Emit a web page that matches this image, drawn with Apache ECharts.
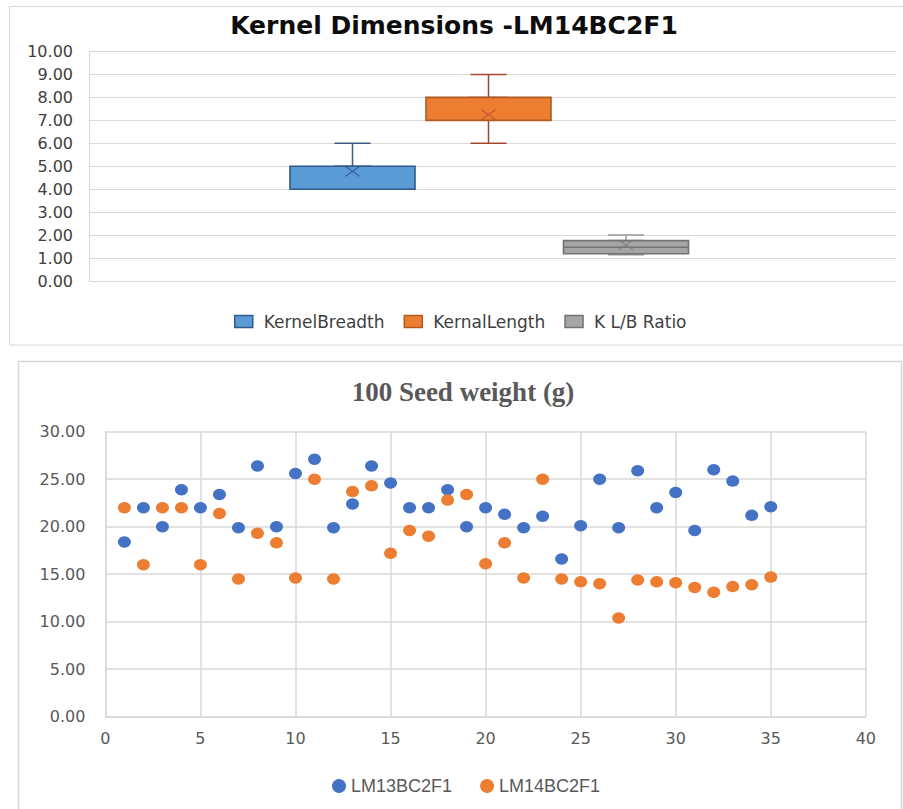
<!DOCTYPE html>
<html>
<head>
<meta charset="utf-8">
<script src="https://cdn.jsdelivr.net/npm/echarts@6/dist/echarts.min.js"></script>
<style>
html,body{margin:0;padding:0;background:#fff;}
#chart{width:903px;height:809px;}
</style>
</head>
<body>
<div id="chart"></div>
<script>
// ---------- Data: Kernel dimensions (box plot statistics) ----------
const boxNames  = ['KernelBreadth', 'KernalLength', 'K L/B Ratio'];
const boxMin    = [4.00, 6.00, 1.14];
const boxQ1     = [4.00, 7.00, 1.19];
const boxMedian = [5.00, 7.00, 1.47];
const boxQ3     = [5.00, 8.00, 1.76];
const boxMax    = [6.00, 9.00, 2.00];
const boxMean   = [4.78, 7.25, 1.57];

// ---------- Data: 100 seed weight (g) ----------
const seedIndex = [1,2,3,4,5,6,7,8,9,10,11,12,13,14,15,16,17,18,19,20,21,22,23,24,25,26,27,28,29,30,31,32,33,34,35];
const lm13 = [18.4,22.0,20.0,23.9,22.0,23.4,19.9,26.4,20.0,25.6,27.1,19.9,22.4,26.4,24.6,22.0,22.0,23.9,20.0,22.0,21.3,19.9,21.1,16.6,20.1,25.0,19.9,25.9,22.0,23.6,19.6,26.0,24.8,21.2,22.1];
const lm14 = [22.0,16.0,22.0,22.0,16.0,21.4,14.5,19.3,18.3,14.6,25.0,14.5,23.7,24.3,17.2,19.6,19.0,22.8,23.4,16.1,18.3,14.6,25.0,14.5,14.2,14.0,10.4,14.4,14.2,14.1,13.6,13.1,13.7,13.9,14.7];
const scatterNames = ['LM13BC2F1', 'LM14BC2F1'];

// ---------- Styling / layout ----------
const boxFill    = ['#5b9bd5', '#ed7d31', '#a5a5a5'];
const boxBorder  = ['#2f5a8c', '#ae5a21', '#737373'];
const whiskerCol = ['#3c5a82', '#a3462c', '#9a9a9a'];
const meanCol    = ['#2f5597', '#b5542a', '#7a7a7a'];
const boxCenters = [352.5, 488.5, 626];
const boxW = 125, capW = 36;
const topPlot = {left: 89, top: 51.5, width: 807, height: 229.5};
const botPlot = {left: 105.4, top: 431.7, width: 760.4, height: 285};
const scatterCol = ['#4472c4', '#ed7d31'];
const gridCol = '#d9d9d9';

const grids = [Object.assign({}, topPlot)];
const xAxes = [{gridIndex: 0, type: 'category', data: [''], show: false}];
const yAxes = [{
  gridIndex: 0, type: 'value', min: 0, max: 10, interval: 1,
  axisLine: {show: true, lineStyle: {color: gridCol, width: 1}},
  axisTick: {show: false},
  axisLabel: {margin: 16, formatter: v => v.toFixed(2), fontFamily: 'DejaVu Sans', fontSize: 16, color: '#404040'},
  splitLine: {show: true, lineStyle: {color: gridCol, width: 1}}
}];
const series = [];

boxNames.forEach((name, i) => {
  const gi = grids.length;
  grids.push({left: boxCenters[i] - boxW / 2, top: topPlot.top, width: boxW, height: topPlot.height});
  const xw = xAxes.length;
  xAxes.push({gridIndex: gi, type: 'category', data: [name], show: false});
  const xb = xAxes.length;
  xAxes.push({gridIndex: gi, type: 'category', data: [name], show: false});
  const yi = yAxes.length;
  yAxes.push({gridIndex: gi, type: 'value', min: 0, max: 10, show: false});
  // whiskers (narrow caps)
  series.push({
    type: 'boxplot', name: name + ' whisker', xAxisIndex: xw, yAxisIndex: yi, z: 2,
    boxWidth: [capW, capW], silent: true,
    data: [[boxMin[i], boxQ1[i], boxMedian[i], boxQ3[i], boxMax[i]]],
    itemStyle: {color: boxFill[i], borderColor: whiskerCol[i], borderWidth: 1.5}
  });
  // box
  series.push({
    type: 'boxplot', name: name, xAxisIndex: xb, yAxisIndex: yi, z: 3,
    boxWidth: [boxW, boxW], silent: true,
    data: [[boxQ1[i], boxQ1[i], boxMedian[i], boxQ3[i], boxQ3[i]]],
    itemStyle: {color: boxFill[i], borderColor: boxBorder[i], borderWidth: 1.6}
  });
  // mean marker
  series.push({
    type: 'scatter', name: name + ' mean', xAxisIndex: xb, yAxisIndex: yi, z: 4, silent: true,
    symbol: 'path://M0,0L10,10M10,0L0,10', symbolSize: [14, 10],
    data: [[0, boxMean[i]]],
    itemStyle: {color: 'rgba(0,0,0,0)', borderColor: meanCol[i], borderWidth: 1.3}
  });
});

// bottom scatter
const bi = grids.length;
grids.push(Object.assign({}, botPlot));
const bx = xAxes.length;
xAxes.push({
  gridIndex: bi, type: 'value', min: 0, max: 40, interval: 5,
  axisLine: {show: true, lineStyle: {color: gridCol, width: 1.5}},
  axisTick: {show: false},
  axisLabel: {margin: 14, fontFamily: 'DejaVu Sans', fontSize: 16, color: '#595959'},
  splitLine: {show: true, lineStyle: {color: gridCol, width: 1.5}}
});
const by = yAxes.length;
yAxes.push({
  gridIndex: bi, type: 'value', min: 0, max: 30, interval: 5,
  axisLine: {show: true, lineStyle: {color: gridCol, width: 1.5}},
  axisTick: {show: false},
  axisLabel: {margin: 20, formatter: v => v.toFixed(2), fontFamily: 'DejaVu Sans', fontSize: 16, color: '#595959'},
  splitLine: {show: true, lineStyle: {color: gridCol, width: 1.5}}
});
[lm13, lm14].forEach((vals, k) => {
  series.push({
    type: 'scatter', name: scatterNames[k], xAxisIndex: bx, yAxisIndex: by, z: 3 + k,
    symbol: 'circle', symbolSize: [13, 11.5],
    data: seedIndex.map((x, j) => [x, vals[j]]),
    itemStyle: {color: scatterCol[k], opacity: 1}
  });
});

const chart = echarts.init(document.getElementById('chart'), null, {renderer: 'svg'});
chart.setOption({
  animation: false,
  backgroundColor: '#ffffff',
  title: [
    {text: 'Kernel Dimensions -LM14BC2F1', left: 449, top: 8, textAlign: 'center',
     textStyle: {fontFamily: 'DejaVu Sans', fontWeight: 'bold', fontSize: 25, color: '#0d0d0d'}},
    {text: '100 Seed weight (g)', left: 458, top: 373, textAlign: 'center',
     textStyle: {fontFamily: 'Liberation Serif', fontWeight: 'bold', fontSize: 27, color: '#595959'}}
  ],
  legend: [
    {data: boxNames.map((n, i) => ({name: n, itemStyle: {color: boxFill[i], borderColor: boxBorder[i], borderWidth: 1.5}})),
     left: 229, top: 308, icon: 'rect', itemWidth: 18, itemHeight: 12, itemGap: 19,
     selectedMode: false,
     textStyle: {fontFamily: 'DejaVu Sans', fontSize: 17, color: '#404040', padding: [0, 0, 0, 6]}},
    {data: scatterNames, left: 327, top: 772, icon: 'circle', itemWidth: 14, itemHeight: 14, itemGap: 28,
     selectedMode: false,
     textStyle: {fontFamily: 'Liberation Sans', fontSize: 18, color: '#595959'}}
  ],
  grid: grids,
  xAxis: xAxes,
  yAxis: yAxes,
  series: series,
  graphic: [
    {type: 'rect', silent: true, z: -10, shape: {x: 9.5, y: 6.5, width: 900, height: 338.5},
     style: {fill: 'none', stroke: '#d6d6d6', lineWidth: 1}},
    {type: 'rect', silent: true, z: -10, shape: {x: 18.5, y: 361.5, width: 883, height: 460},
     style: {fill: 'none', stroke: '#d6d6d6', lineWidth: 1.5}}
  ]
});
</script>
</body>
</html>
